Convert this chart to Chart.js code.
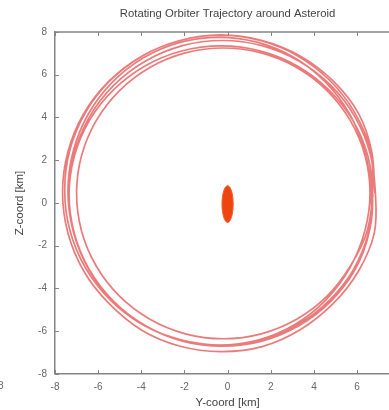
<!DOCTYPE html>
<html>
<head>
<meta charset="utf-8">
<title>Rotating Orbiter Trajectory around Asteroid</title>
<script src="https://cdn.jsdelivr.net/npm/chart.js@4/dist/chart.umd.min.js"></script>
<style>
  html, body { margin: 0; padding: 0; background: #fff; overflow: hidden; }
  #wrap { position: relative; width: 410px; height: 410px; }
  #edge { position: absolute; left: -2px; top: 380px; font: 10px "Liberation Sans", Arial, sans-serif; color: #666; }
</style>
</head>
<body>
<div id="wrap">
  <canvas id="c" width="410" height="410"></canvas>
  <span id="edge">8</span>
</div>
<script>
// Orbiter position in the rotating frame [km], six revolutions
const trajY = [
  6.82, 6.68, 6.07, 4.90, 3.38, 1.60, -0.30, -2.20, -3.98, -5.50, -6.67, -7.40, -7.65, -7.40, -6.67, -5.50, -3.98, -2.20, -0.30, 1.60, 3.38, 4.90, 6.07, 6.80,
  6.85, 6.61, 5.90, 4.77, 3.30, 1.59, -0.25, -2.09, -3.80, -5.27, -6.40, -7.11, -7.35, -7.11, -6.40, -5.27, -3.80, -2.09, -0.25, 1.59, 3.30, 4.77, 5.90, 6.55,
  6.65, 6.36, 5.66, 4.55, 3.10, 1.41, -0.40, -2.21, -3.90, -5.35, -6.46, -7.16, -7.40, -7.16, -6.46, -5.35, -3.90, -2.21, -0.40, 1.41, 3.10, 4.55, 5.66, 6.36,
  6.60, 6.37, 5.69, 4.61, 3.20, 1.56, -0.20, -1.96, -3.60, -5.01, -6.09, -6.77, -7.00, -6.77, -6.09, -5.01, -3.60, -1.96, -0.20, 1.56, 3.20, 4.61, 5.69, 6.47,
  6.72, 6.61, 5.89, 4.74, 3.25, 1.51, -0.35, -2.21, -3.95, -5.44, -6.59, -7.31, -7.55, -7.31, -6.59, -5.44, -3.95, -2.21, -0.35, 1.51, 3.25, 4.74, 5.89, 6.58,
  6.72, 6.51, 5.81, 4.68, 3.23, 1.53, -0.30, -2.13, -3.83, -5.28, -6.41, -7.11, -7.35, -7.11, -6.41, -5.28, -3.83, -2.13, -0.30, 1.53, 3.23, 4.68, 5.81, 6.51, 6.74
];
const trajZ = [
  0.45, 2.40, 4.18, 5.70, 6.87, 7.60, 7.85, 7.60, 6.87, 5.70, 4.18, 2.40, 0.50, -1.40, -3.18, -4.70, -5.95, -6.70, -6.95, -6.72, -5.92, -4.70, -3.18, -1.40,
  0.45, 2.30, 4.03, 5.51, 6.64, 7.36, 7.60, 7.36, 6.64, 5.51, 4.03, 2.30, 0.45, -1.40, -3.13, -4.61, -5.74, -6.46, -6.70, -6.46, -5.74, -4.61, -3.13, -1.40,
  0.55, 2.41, 4.15, 5.64, 6.79, 7.51, 7.75, 7.51, 6.79, 5.64, 4.15, 2.41, 0.55, -1.31, -3.05, -4.54, -5.69, -6.41, -6.65, -6.41, -5.69, -4.54, -3.05, -1.31,
  0.45, 2.21, 3.85, 5.26, 6.34, 7.02, 7.25, 7.02, 6.34, 5.26, 3.85, 2.21, 0.45, -1.31, -2.95, -4.36, -5.44, -6.12, -6.35, -6.12, -5.44, -4.36, -2.95, -1.31,
  0.60, 2.48, 4.23, 5.73, 6.88, 7.60, 7.85, 7.60, 6.88, 5.73, 4.23, 2.48, 0.60, -1.28, -3.03, -4.53, -5.68, -6.40, -6.65, -6.40, -5.68, -4.53, -3.03, -1.28,
  0.35, 2.16, 3.85, 5.30, 6.41, 7.11, 7.35, 7.11, 6.41, 5.30, 3.85, 2.16, 0.35, -1.46, -3.15, -4.65, -5.76, -6.41, -6.65, -6.41, -5.76, -4.65, -3.15, -1.46, 0.40
];

// Asteroid outline [km]
const asteroidY = [0.26, 0.24, 0.18, 0.10, 0.00, -0.10, -0.18, -0.24, -0.26, -0.24, -0.18, -0.10, 0.00, 0.10, 0.18, 0.24, 0.26];
const asteroidZ = [-0.05, 0.28, 0.56, 0.74, 0.81, 0.74, 0.56, 0.28, -0.05, -0.38, -0.66, -0.84, -0.91, -0.84, -0.66, -0.38, -0.05];

const axisTicks = [-8, -6, -4, -2, 0, 2, 4, 6, 8];

const FONT = '"Liberation Sans", Arial, Helvetica, sans-serif';
const AXIS_COLOR = '#858585';

const toPoints = (xs, ys) => xs.map((v, i) => ({ x: v, y: ys[i] }));

// Box frame with short inward tick marks on every side
const frameTicks = {
  id: 'frameTicks',
  afterDatasetsDraw(chart) {
    const { ctx, chartArea: a, scales: { x, y } } = chart;
    ctx.save();
    ctx.strokeStyle = AXIS_COLOR;
    ctx.lineWidth = 1.5;
    ctx.beginPath();
    ctx.moveTo(a.left, a.top); ctx.lineTo(a.right, a.top);
    ctx.moveTo(a.right, a.top); ctx.lineTo(a.right, a.bottom);
    ctx.stroke();
    ctx.lineWidth = 1;
    ctx.beginPath();
    axisTicks.forEach(v => {
      const px = Math.round(x.getPixelForValue(v)) + 0.5;
      ctx.moveTo(px, a.bottom); ctx.lineTo(px, a.bottom - 4);
      ctx.moveTo(px, a.top); ctx.lineTo(px, a.top + 4);
      const py = Math.round(y.getPixelForValue(v)) + 0.5;
      ctx.moveTo(a.left, py); ctx.lineTo(a.left + 4, py);
      ctx.moveTo(a.right, py); ctx.lineTo(a.right - 4, py);
    });
    ctx.stroke();
    ctx.restore();
  }
};

new Chart(document.getElementById('c'), {
  type: 'scatter',
  data: {
    datasets: [
      {
        label: 'Asteroid',
        data: toPoints(asteroidY, asteroidZ),
        showLine: true,
        tension: 0.4,
        fill: 'shape',
        backgroundColor: '#ee4510',
        borderColor: '#f2602a',
        borderWidth: 1,
        pointRadius: 0,
        order: 0
      },
      {
        label: 'Orbiter',
        data: toPoints(trajY, trajZ),
        showLine: true,
        tension: 0.35,
        fill: false,
        borderColor: 'rgba(222, 40, 40, 0.62)',
        borderWidth: 1.7,
        pointRadius: 0,
        order: 1
      }
    ]
  },
  options: {
    responsive: false,
    animation: false,
    events: [],
    layout: { padding: { left: 0, right: 6, top: 0, bottom: 0 } },
    plugins: {
      legend: { display: false },
      tooltip: { enabled: false },
      title: {
        display: true,
        text: 'Rotating Orbiter Trajectory around Asteroid',
        fullSize: false,
        color: '#444',
        font: { family: FONT, size: 11.3, weight: 'normal' },
        padding: { top: 7, bottom: 11.4 }
      }
    },
    scales: {
      x: {
        type: 'linear',
        min: -8, max: 8,
        afterFit(s) { s.height = 36; },
        afterBuildTicks(s) { s.ticks = axisTicks.map(v => ({ value: v })); },
        grid: { display: false, drawTicks: false },
        border: { display: true, color: AXIS_COLOR, width: 1.5 },
        ticks: { color: '#666', padding: 7, maxRotation: 0, font: { family: FONT, size: 10 } },
        title: {
          display: true,
          text: 'Y-coord [km]',
          color: '#444',
          font: { family: FONT, size: 11.5 },
          padding: { top: 0, bottom: 0 }
        }
      },
      y: {
        type: 'linear',
        min: -8, max: 8,
        afterFit(s) { s.width = 55; },
        afterBuildTicks(s) { s.ticks = axisTicks.map(v => ({ value: v })); },
        grid: { display: false, drawTicks: false },
        border: { display: true, color: AXIS_COLOR, width: 1.5 },
        ticks: { color: '#666', padding: 8, font: { family: FONT, size: 10 } },
        title: {
          display: true,
          text: 'Z-coord [km]',
          color: '#444',
          font: { family: FONT, size: 11.5 },
          padding: { top: 13, bottom: 0 }
        }
      }
    }
  },
  plugins: [frameTicks]
});
</script>
</body>
</html>
